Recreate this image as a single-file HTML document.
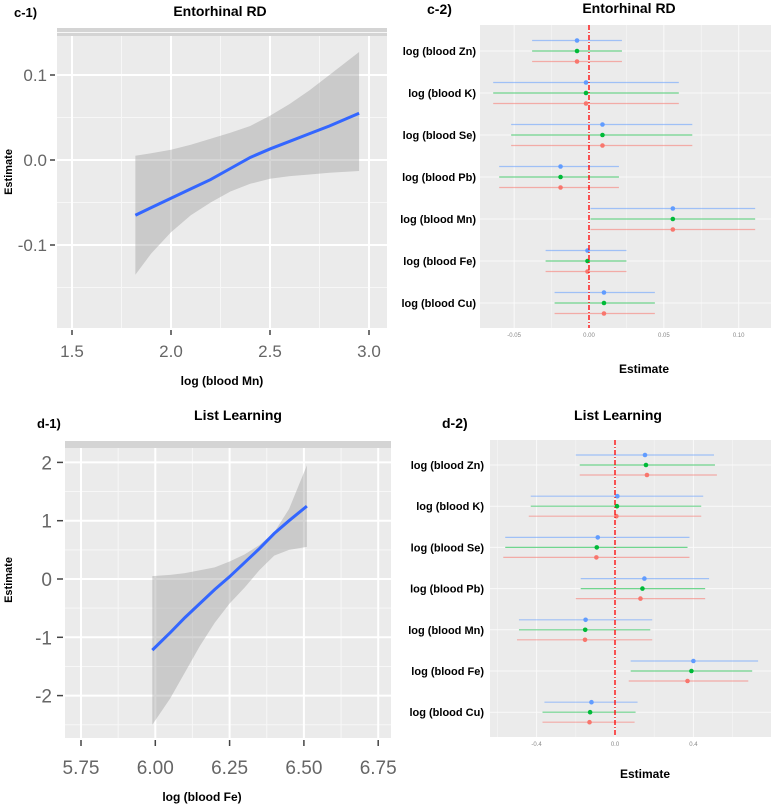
<!DOCTYPE html>
<html><head><meta charset="utf-8"><style>
body{margin:0;background:#fff;}
svg{display:block;font-family:"Liberation Sans",Arial,sans-serif;}
</style></head><body>
<svg id="fig" width="771" height="805" viewBox="0 0 771 805"></svg>
<script>
// ---- c-1 data ----
const c1X=[1.82,1.9,2.0,2.1,2.2,2.3,2.4,2.5,2.6,2.7,2.8,2.95];
const c1Fit=[-0.065,-0.056,-0.045,-0.034,-0.023,-0.010,0.003,0.013,0.022,0.031,0.040,0.055];
const c1Lo=[-0.135,-0.11,-0.085,-0.065,-0.05,-0.037,-0.028,-0.022,-0.019,-0.017,-0.015,-0.013];
const c1Hi=[0.005,0.008,0.012,0.018,0.025,0.032,0.040,0.052,0.066,0.082,0.100,0.127];
const c1XTicks=[1.5,2.0,2.5,3.0];
const c1YTicks=[0.1,0.0,-0.1];
const c1XLabels=["1.5","2.0","2.5","3.0"];
const c1YLabels=["0.1","0.0","-0.1"];
// ---- d-1 data ----
const d1X=[5.99,6.05,6.1,6.15,6.2,6.25,6.3,6.35,6.4,6.45,6.51];
const d1Fit=[-1.22,-0.92,-0.66,-0.42,-0.18,0.04,0.28,0.52,0.78,1.0,1.25];
const d1Lo=[-2.5,-2.05,-1.6,-1.15,-0.75,-0.42,-0.15,0.15,0.4,0.5,0.55];
const d1Hi=[0.05,0.07,0.1,0.15,0.2,0.3,0.42,0.58,0.8,1.2,1.95];
const d1XTicks=[5.75,6.0,6.25,6.5,6.75];
const d1XLabels=["5.75","6.00","6.25","6.50","6.75"];
const d1YTicks=[2,1,0,-1,-2];
const d1YLabels=["2","1","0","-1","-2"];
// ---- forest data ----
const metals=["log (blood Zn)","log (blood K)","log (blood Se)","log (blood Pb)","log (blood Mn)","log (blood Fe)","log (blood Cu)"];
const c2Est=[-0.008,-0.002,0.009,-0.019,0.056,-0.001,0.010];
const c2Lo=[-0.038,-0.064,-0.052,-0.060,0.001,-0.029,-0.023];
const c2Hi=[0.022,0.060,0.069,0.020,0.111,0.025,0.044];
const c2Ticks=[-0.05,0,0.05,0.10];
const c2TickLabels=["-0.05","0.00","0.05","0.10"];
const d2EstB=[0.153,0.012,-0.088,0.15,-0.15,0.40,-0.12];
const d2EstG=[0.158,0.010,-0.093,0.14,-0.152,0.39,-0.127];
const d2EstR=[0.163,0.007,-0.095,0.13,-0.153,0.37,-0.13];
const d2LoB=[-0.2,-0.43,-0.56,-0.175,-0.49,0.08,-0.36];
const d2LoG=[-0.18,-0.43,-0.56,-0.175,-0.49,0.08,-0.37];
const d2LoR=[-0.18,-0.44,-0.57,-0.2,-0.5,0.07,-0.37];
const d2HiB=[0.505,0.45,0.38,0.48,0.19,0.73,0.115];
const d2HiG=[0.51,0.44,0.37,0.46,0.18,0.70,0.105];
const d2HiR=[0.52,0.44,0.38,0.46,0.19,0.68,0.10];
const d2Ticks=[-0.4,0,0.4];
const d2TickLabels=["-0.4","0.0","0.4"];

const NS="http://www.w3.org/2000/svg";
const svg=document.getElementById('fig');
function mk(tag,attrs,parent,text){const e=document.createElementNS(NS,tag);for(const k in attrs)e.setAttribute(k,attrs[k]);if(text!==undefined)e.textContent=text;(parent||svg).appendChild(e);return e;}
function txt(x,y,s,size,opts,name){const t=mk('text',Object.assign({x:x,y:y,'font-size':size,fill:'#000'},opts||{}),svg,s);

return t;}

// ===== c-1 =====
(function(){
const sx=v=>72+(v-1.5)/1.5*297, sy=v=>160-v*850;
const g=mk('g',{});


mk('rect',{x:57,y:28,width:330,height:8,fill:'#d4d4d4'},g);
mk('rect',{x:57,y:36,width:330,height:292,fill:'#ebebeb'},g);
[1.75,2.25,2.75].forEach(v=>mk('line',{x1:sx(v),x2:sx(v),y1:36,y2:328,stroke:'#f7f7f7','stroke-width':1},g));
[0.15,0.05,-0.05,-0.15].forEach(v=>mk('line',{x1:57,x2:387,y1:sy(v),y2:sy(v),stroke:'#f7f7f7','stroke-width':1},g));
c1XTicks.forEach((v,i)=>{mk('line',{x1:sx(v),x2:sx(v),y1:36,y2:328,stroke:'#fff','stroke-width':2},g);
mk('line',{x1:sx(v),x2:sx(v),y1:330,y2:335,stroke:'#444','stroke-width':1.5},g);
txt(sx(v),357,c1XLabels[i],17,{'text-anchor':'middle',fill:'#666'},'x-tick-label');});
c1YTicks.forEach((v,i)=>{mk('line',{x1:57,x2:387,y1:sy(v),y2:sy(v),stroke:'#fff','stroke-width':2},g);
mk('line',{x1:50,x2:55,y1:sy(v),y2:sy(v),stroke:'#444','stroke-width':1.5},g);
txt(47,sy(v)+6,c1YLabels[i],17,{'text-anchor':'end',fill:'#666'},'y-tick-label');});
let p='';c1X.forEach((x,i)=>p+=(i?'L':'M')+sx(x)+','+sy(c1Hi[i]));
for(let i=c1X.length-1;i>=0;i--)p+='L'+sx(c1X[i])+','+sy(c1Lo[i]);
const r=mk('path',{d:p+'Z',fill:'#999','fill-opacity':0.4},g);


const l=mk('polyline',{points:c1X.map((x,i)=>sx(x)+','+sy(c1Fit[i])).join(' '),fill:'none',stroke:'#3366ff','stroke-width':3},g);


})();
txt(14,17,'c-1)',13,{'font-weight':'bold'},'panel-label-c1');
txt(220,16,'Entorhinal RD',14,{'font-weight':'bold','text-anchor':'middle'},'title-c1');
txt(222,385,'log (blood Mn)',12,{'font-weight':'bold','text-anchor':'middle'},'x-axis-title-c1');
txt(12,172,'Estimate',11,{'font-weight':'bold','text-anchor':'middle',transform:'rotate(-90 12 172)'},'y-axis-title-c1');

// ===== d-1 =====
(function(){
const sx=v=>81+(v-5.75)/0.25*74.3, sy=v=>579-v*58.3;
const g=mk('g',{});


mk('rect',{x:65,y:441,width:326,height:7,fill:'#d4d4d4'},g);
mk('rect',{x:65,y:448,width:326,height:290,fill:'#ebebeb'},g);
[5.875,6.125,6.375,6.625].forEach(v=>mk('line',{x1:sx(v),x2:sx(v),y1:448,y2:738,stroke:'#f7f7f7','stroke-width':1},g));
[1.5,0.5,-0.5,-1.5,-2.5].forEach(v=>mk('line',{x1:65,x2:391,y1:sy(v),y2:sy(v),stroke:'#f7f7f7','stroke-width':1},g));
d1XTicks.forEach((v,i)=>{mk('line',{x1:sx(v),x2:sx(v),y1:448,y2:738,stroke:'#fff','stroke-width':2},g);
mk('line',{x1:sx(v),x2:sx(v),y1:740,y2:746,stroke:'#444','stroke-width':1.5},g);
txt(sx(v),774,d1XLabels[i],19,{'text-anchor':'middle',fill:'#666'},'x-tick-label');});
d1YTicks.forEach((v,i)=>{mk('line',{x1:65,x2:391,y1:sy(v),y2:sy(v),stroke:'#fff','stroke-width':2},g);
mk('line',{x1:57,x2:63,y1:sy(v),y2:sy(v),stroke:'#444','stroke-width':1.5},g);
txt(52,sy(v)+7,d1YLabels[i],19,{'text-anchor':'end',fill:'#666'},'y-tick-label');});
let p='';d1X.forEach((x,i)=>p+=(i?'L':'M')+sx(x)+','+sy(d1Hi[i]));
for(let i=d1X.length-1;i>=0;i--)p+='L'+sx(d1X[i])+','+sy(d1Lo[i]);
const r=mk('path',{d:p+'Z',fill:'#999','fill-opacity':0.4},g);


const l=mk('polyline',{points:d1X.map((x,i)=>sx(x)+','+sy(d1Fit[i])).join(' '),fill:'none',stroke:'#3366ff','stroke-width':3},g);


})();
txt(37,428,'d-1)',13,{'font-weight':'bold'},'panel-label-d1');
txt(238,420,'List Learning',14,{'font-weight':'bold','text-anchor':'middle'},'title-d1');
txt(202,801,'log (blood Fe)',12,{'font-weight':'bold','text-anchor':'middle'},'x-axis-title-d1');
txt(12,580,'Estimate',11,{'font-weight':'bold','text-anchor':'middle',transform:'rotate(-90 12 580)'},'y-axis-title-d1');

// ===== forest plots =====
function forest(o){
const g=mk('g',{});


mk('rect',{x:o.x0,y:o.y0,width:o.x1-o.x0,height:o.y1-o.y0,fill:'#ebebeb'},g);
o.minor.forEach(v=>mk('line',{x1:o.sx(v),x2:o.sx(v),y1:o.y0,y2:o.y1,stroke:'#f5f5f5','stroke-width':0.7},g));
o.ticks.forEach((v,i)=>{mk('line',{x1:o.sx(v),x2:o.sx(v),y1:o.y0,y2:o.y1,stroke:'#fafafa','stroke-width':1},g);
txt(o.sx(v),o.y1+9,o.tickLabels[i],6,{'text-anchor':'middle',fill:'#888'},'x-tick-label');});
metals.forEach((m,i)=>{const cy=o.row0+i*o.rowH;
mk('line',{x1:o.x0,x2:o.x1,y1:cy,y2:cy,stroke:'#fafafa','stroke-width':1},g);
txt(o.labelX,cy+4,m,11,{'text-anchor':'end','font-weight':'bold'},'y-tick-label');
o.series.forEach((s,k)=>{const y=cy+(k-1)*o.off;
const ln=mk('line',{x1:o.sx(s.lo[i]),x2:o.sx(s.hi[i]),y1:y,y2:y,stroke:s.c,'stroke-opacity':0.55,'stroke-width':1.2},g);


const c=mk('circle',{cx:o.sx(s.est[i]),cy:y,r:2.3,fill:s.c},g);

});});
const z=mk('line',{x1:o.sx(0),x2:o.sx(0),y1:o.y0,y2:o.y1,stroke:'#ff0000','stroke-width':1.3,'stroke-dasharray':'5,2,1,2'},g);


}
forest({name:'panel-c2',x0:480,x1:771,y0:25,y1:328,sx:v=>589+v*1497,ticks:c2Ticks,tickLabels:c2TickLabels,minor:[-0.025,0.025,0.075],
row0:51,rowH:42,off:10.5,labelX:476,
series:[{c:'#619cff',est:c2Est,lo:c2Lo,hi:c2Hi},{c:'#00ba38',est:c2Est,lo:c2Lo,hi:c2Hi},{c:'#f8766d',est:c2Est,lo:c2Lo,hi:c2Hi}]});
forest({name:'panel-d2',x0:490,x1:771,y0:440,y1:737,sx:v=>615+v*196,ticks:d2Ticks,tickLabels:d2TickLabels,minor:[-0.6,-0.2,0.2,0.6],
row0:465,rowH:41.2,off:10,labelX:484,
series:[{c:'#619cff',est:d2EstB,lo:d2LoB,hi:d2HiB},{c:'#00ba38',est:d2EstG,lo:d2LoG,hi:d2HiG},{c:'#f8766d',est:d2EstR,lo:d2LoR,hi:d2HiR}]});
txt(427,14,'c-2)',14,{'font-weight':'bold'},'panel-label-c2');
txt(629,13,'Entorhinal RD',14,{'font-weight':'bold','text-anchor':'middle'},'title-c2');
txt(644,373,'Estimate',12,{'font-weight':'bold','text-anchor':'middle'},'x-axis-title-c2');
txt(442,428,'d-2)',14,{'font-weight':'bold'},'panel-label-d2');
txt(618,420,'List Learning',14,{'font-weight':'bold','text-anchor':'middle'},'title-d2');
txt(645,778,'Estimate',12,{'font-weight':'bold','text-anchor':'middle'},'x-axis-title-d2');
</script>
</body></html>
